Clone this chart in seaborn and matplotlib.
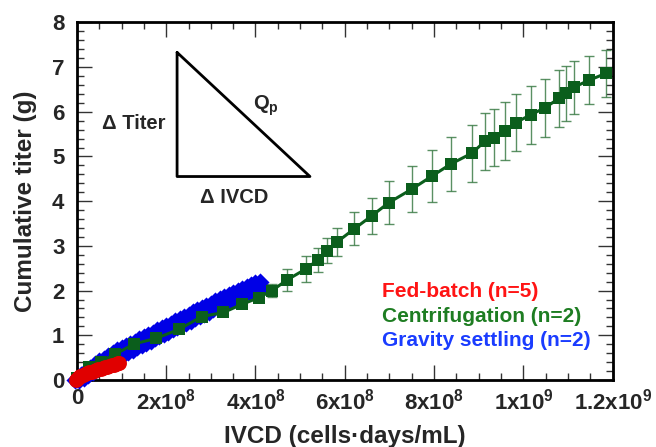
import matplotlib
matplotlib.use('Agg')
import numpy as np
import pandas as pd
import matplotlib.pyplot as plt
import seaborn as sns
from matplotlib.ticker import MultipleLocator

# Centrifugation (n=2): mean with error bars, IVCD in cells*days/mL
cent_ivcd = [0.00e8, 0.28e8, 0.54e8, 0.86e8, 1.29e8, 1.77e8, 2.28e8, 2.80e8, 3.28e8, 3.69e8,
             4.07e8, 4.37e8, 4.71e8, 5.12e8, 5.39e8, 5.60e8, 5.83e8, 6.21e8, 6.60e8, 6.99e8,
             7.50e8, 7.95e8, 8.37e8, 8.84e8, 9.14e8, 9.35e8, 9.59e8, 9.83e8, 10.16e8, 10.48e8,
             10.80e8, 10.95e8, 11.13e8, 11.48e8, 11.85e8]
cent_titer = [0.04, 0.28, 0.41, 0.58, 0.81, 0.93, 1.13, 1.42, 1.51, 1.69,
              1.84, 2.00, 2.24, 2.48, 2.68, 2.89, 3.09, 3.38, 3.67, 3.97,
              4.27, 4.56, 4.83, 5.07, 5.34, 5.42, 5.58, 5.76, 5.93, 6.09,
              6.30, 6.41, 6.55, 6.71, 6.86]
cent_err = [0.01, 0.02, 0.02, 0.03, 0.03, 0.04, 0.04, 0.05, 0.05, 0.06,
            0.07, 0.14, 0.24, 0.29, 0.27, 0.28, 0.32, 0.37, 0.41, 0.48,
            0.52, 0.58, 0.61, 0.64, 0.64, 0.64, 0.65, 0.64, 0.65, 0.65,
            0.63, 0.62, 0.59, 0.54, 0.52]

# Gravity settling (n=2), two runs
grav1_ivcd = [0.0e8, 0.1e8, 0.2e8, 0.3e8, 0.4e8, 0.5e8, 0.6e8, 0.7e8, 0.8e8, 0.9e8,
              1.0e8, 1.1e8, 1.2e8, 1.3e8, 1.4e8, 1.5e8, 1.6e8, 1.7e8, 1.8e8, 1.9e8,
              2.0e8, 2.1e8, 2.2e8, 2.3e8, 2.4e8, 2.5e8, 2.6e8, 2.7e8, 2.8e8, 2.9e8,
              3.0e8, 3.1e8, 3.2e8, 3.3e8, 3.4e8, 3.5e8, 3.6e8, 3.7e8, 3.8e8, 3.9e8,
              4.0e8, 4.1e8]
grav1_titer = [0.03, 0.12, 0.20, 0.27, 0.35, 0.42, 0.48, 0.54, 0.60, 0.66,
               0.71, 0.76, 0.81, 0.86, 0.91, 0.96, 1.01, 1.06, 1.11, 1.16,
               1.21, 1.26, 1.31, 1.36, 1.41, 1.46, 1.51, 1.56, 1.61, 1.66,
               1.71, 1.76, 1.81, 1.86, 1.91, 1.95, 2.00, 2.04, 2.08, 2.12,
               2.16, 2.19]
grav2_ivcd = [-0.05e8, 0.05e8, 0.15e8, 0.25e8, 0.35e8, 0.45e8, 0.55e8, 0.65e8, 0.75e8, 0.85e8,
              0.95e8, 1.05e8, 1.15e8, 1.25e8, 1.35e8, 1.45e8, 1.55e8, 1.65e8, 1.75e8, 1.85e8,
              1.95e8, 2.05e8, 2.15e8, 2.25e8, 2.35e8, 2.45e8, 2.55e8, 2.65e8, 2.75e8, 2.85e8,
              2.95e8, 3.05e8, 3.15e8, 3.25e8, 3.35e8, 3.45e8, 3.55e8, 3.65e8, 3.75e8, 3.85e8,
              3.95e8, 4.05e8, 4.15e8]
grav2_titer = [0.00, 0.00, 0.05, 0.11, 0.18, 0.25, 0.31, 0.37, 0.43, 0.48,
               0.53, 0.58, 0.63, 0.68, 0.73, 0.78, 0.83, 0.88, 0.93, 0.98,
               1.03, 1.08, 1.13, 1.18, 1.23, 1.28, 1.33, 1.38, 1.43, 1.48,
               1.53, 1.58, 1.63, 1.68, 1.73, 1.78, 1.83, 1.88, 1.92, 1.96,
               2.00, 2.04, 2.08]

# Fed-batch (n=5)
fed_ivcd = [-0.03e8, 0.00e8, 0.03e8, 0.06e8, 0.10e8, 0.14e8, 0.18e8, 0.23e8, 0.28e8, 0.33e8,
            0.38e8, 0.43e8, 0.48e8, 0.53e8, 0.58e8, 0.63e8, 0.68e8, 0.73e8, 0.78e8, 0.83e8,
            0.88e8, 0.92e8, 0.95e8]
fed_titer = [0.00, 0.02, 0.05, 0.08, 0.10, 0.12, 0.14, 0.16, 0.18, 0.19,
             0.21, 0.22, 0.24, 0.25, 0.27, 0.28, 0.30, 0.31, 0.33, 0.34,
             0.36, 0.37, 0.39]

x_ticks = [0, 2e8, 4e8, 6e8, 8e8, 1e9, 1.2e9]
x_ticklabels = ['0', '2x10$^8$', '4x10$^8$', '6x10$^8$', '8x10$^8$', '1x10$^9$', '1.2x10$^9$']

sns.set_style('ticks')
plt.rcParams['font.family'] = ['Liberation Sans', 'DejaVu Sans']
plt.rcParams['font.weight'] = 'bold'
plt.rcParams['mathtext.fontset'] = 'custom'
plt.rcParams['mathtext.rm'] = 'Liberation Sans:bold'
plt.rcParams['mathtext.it'] = 'Liberation Sans:bold'
plt.rcParams['mathtext.bf'] = 'Liberation Sans:bold'
plt.rcParams['mathtext.default'] = 'rm'

green = '#0b5e1c'
blue = '#0000e6'
red = '#e00000'

fig = plt.figure(figsize=(6.56, 4.47), dpi=100)
ax = fig.add_axes([0.1172, 0.1499, 0.8168, 0.80])

grav = pd.DataFrame({'ivcd': grav1_ivcd + grav2_ivcd,
                     'titer': grav1_titer + grav2_titer})
sns.scatterplot(data=grav, x='ivcd', y='titer', marker='D', s=85, color=blue,
                linewidth=0, ax=ax, clip_on=False, zorder=3)

cent = pd.DataFrame({'ivcd': cent_ivcd, 'titer': cent_titer, 'err': cent_err})
ax.errorbar(cent['ivcd'], cent['titer'], yerr=cent['err'], fmt='none',
            ecolor='#3d7d48', elinewidth=1.0, capsize=3.5, capthick=1.0,
            alpha=0.85, zorder=4)
sns.lineplot(data=cent, x='ivcd', y='titer', color=green, linewidth=2.2,
             marker='s', markersize=8, markeredgewidth=0, ax=ax,
             clip_on=False, zorder=5)

fed = pd.DataFrame({'ivcd': fed_ivcd, 'titer': fed_titer})
sns.scatterplot(data=fed, x='ivcd', y='titer', marker='o', s=115, color=red,
                linewidth=0, ax=ax, clip_on=False, zorder=6)

ax.set_xlim(0, 1.2e9)
ax.set_ylim(0, 8)
ax.set_xticks(x_ticks)
ax.set_xticklabels(x_ticklabels)
ax.xaxis.set_minor_locator(MultipleLocator(0.5e8))
ax.yaxis.set_major_locator(MultipleLocator(1))
ax.yaxis.set_minor_locator(MultipleLocator(0.2))
ax.tick_params(which='both', direction='in', top=True, right=True, width=1.0, color='#333333')
ax.tick_params(which='major', length=10.5, labelsize=16, pad=6)
ax.tick_params(which='minor', length=5)
ax.tick_params(axis='y', which='major', pad=9)
for s in ax.spines.values():
    s.set_linewidth(2.0)
    s.set_color('black')

ax.set_xlabel('IVCD (cells\u00b7days/mL)', fontsize=17.5, fontweight='bold', labelpad=8)
ax.set_ylabel('Cumulative titer (g)', fontsize=17.5, fontweight='bold', labelpad=11)

# Qp triangle sketch
ax.plot([0.187, 0.187, 0.435, 0.187], [0.916, 0.569, 0.569, 0.916], color='black',
        linewidth=2.0, transform=ax.transAxes, clip_on=False, zorder=2)
ax.text(0.1066, 0.701, '\u0394 Titer', transform=ax.transAxes, ha='center', va='baseline',
        fontsize=14.5, fontweight='bold')
ax.text(0.2934, 0.496, '\u0394 IVCD', transform=ax.transAxes, ha='center', va='baseline',
        fontsize=14.5, fontweight='bold')
ax.text(0.329, 0.755, '$Q_p$', transform=ax.transAxes, ha='left', va='baseline',
        fontsize=14.5)

# legend as coloured text
ax.text(0.5688, 0.233, 'Fed-batch (n=5)', transform=ax.transAxes, color='#ff1414',
        fontsize=15, fontweight='bold', va='baseline')
ax.text(0.5688, 0.163, 'Centrifugation (n=2)', transform=ax.transAxes, color='#1e7d22',
        fontsize=15, fontweight='bold', va='baseline')
ax.text(0.5688, 0.095, 'Gravity settling (n=2)', transform=ax.transAxes, color='#1a3cff',
        fontsize=15, fontweight='bold', va='baseline')

fig.savefig('out.png', dpi=100)
